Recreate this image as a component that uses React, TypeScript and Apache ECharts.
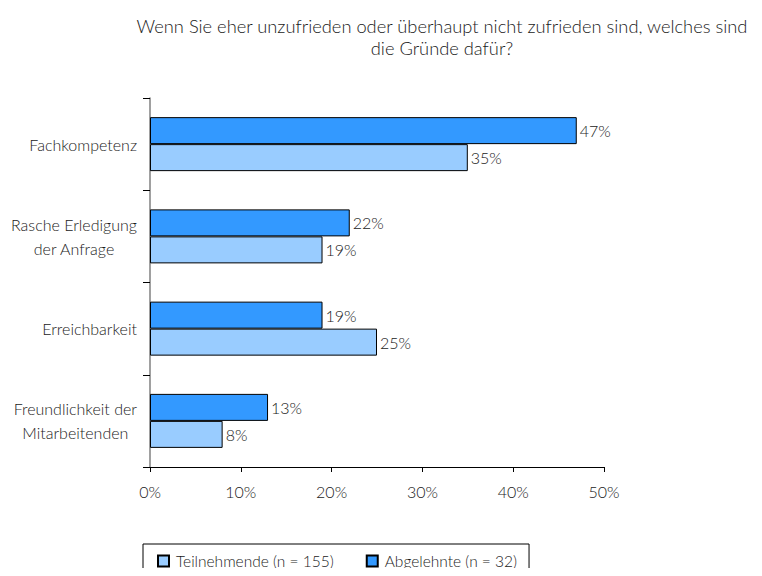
import React, { useEffect, useRef } from "react";
import * as echarts from "echarts";

const categories = [
  "Fachkompetenz",
  "Rasche Erledigung\nder Anfrage",
  "Erreichbarkeit",
  "Freundlichkeit der\nMitarbeitenden",
];
const teilnehmende = [35, 19, 25, 8];
const abgelehnte = [47, 22, 19, 13];
const seriesNames = ["Teilnehmende (n = 155)", "Abgelehnte (n = 32)"];
const xTicks = [0, 10, 20, 30, 40, 50];

const FONT = "Lato, 'Open Sans', sans-serif";
const FS = 16;
const FW = 300;
const TXT = "#1a1a1a";

export default function App() {
  const ref = useRef<HTMLDivElement>(null);
  useEffect(() => {
    if (!ref.current) return;
    const chart = echarts.init(ref.current, undefined, { renderer: "svg" });
    const label = {
      show: true,
      position: "right" as const,
      distance: 3,
      formatter: "{c}%",
      color: TXT,
      fontSize: FS,
      fontWeight: FW,
      fontFamily: FONT,
    };
    chart.setOption({
      animation: false,
      backgroundColor: "#fff",
      textStyle: { fontFamily: FONT, fontWeight: FW },
      title: {
        text: "Wenn Sie eher unzufrieden oder überhaupt nicht zufrieden sind, welches sind\ndie Gründe dafür?",
        left: 437,
        textAlign: "center",
        top: 10,
        textStyle: {
          fontSize: 18.3,
          fontWeight: FW,
          color: TXT,
          lineHeight: 22,
          fontFamily: FONT,
        },
      },
      legend: {
        data: seriesNames,
        left: 143,
        top: 544,
        orient: "horizontal",
        icon: "rect",
        borderColor: "#000",
        borderWidth: 1,
        padding: [9, 12, 6, 14],
        itemWidth: 11,
        itemHeight: 11,
        itemGap: 32,
        textStyle: { fontSize: 15.5, fontWeight: FW, color: TXT, fontFamily: FONT, padding: [0, 0, 0, 2] },
      },
      grid: { left: 150, right: 158, top: 98, bottom: 109, containLabel: false },
      xAxis: {
        type: "value",
        min: 0,
        max: 50,
        interval: 10,
        axisLine: { show: true, lineStyle: { color: "#000", width: 1 } },
        axisTick: { show: true, length: 5, inside: false, lineStyle: { color: "#000" } },
        splitLine: { show: false },
        axisLabel: {
          formatter: (v: number) => (xTicks.includes(v) ? v + "%" : ""),
          color: TXT,
          fontSize: FS,
          fontWeight: FW,
          margin: 16,
          fontFamily: FONT,
        },
      },
      yAxis: {
        type: "category",
        data: categories,
        inverse: true,
        axisLine: { show: true, lineStyle: { color: "#808080", width: 1.5 } },
        axisTick: { show: true, length: 7, alignWithLabel: false, lineStyle: { color: "#000" } },
        axisLabel: {
          color: TXT,
          fontSize: FS,
          fontWeight: FW,
          lineHeight: 24,
          margin: 13,
          align: "right",
          fontFamily: FONT,
          formatter: (v: string) =>
            v
              .split("\n")
              .map((l) => "{c|" + l + "}")
              .join("\n"),
          rich: {
            c: {
              align: "center",
              fontSize: FS,
              fontWeight: FW,
              lineHeight: 24,
              color: TXT,
              fontFamily: FONT,
            },
          },
        },
      },
      series: [
        {
          name: seriesNames[1],
          type: "bar",
          data: abgelehnte,
          barWidth: 27,
          barGap: "0%",
          barCategoryGap: "41%",
          itemStyle: { color: "#3399FF", borderColor: "#000", borderWidth: 1 },
          label,
        },
        {
          name: seriesNames[0],
          type: "bar",
          data: teilnehmende,
          barWidth: 27,
          barGap: "0%",
          itemStyle: { color: "#99CCFF", borderColor: "#000", borderWidth: 1 },
          label,
        },
      ],
    });
    return () => chart.dispose();
  }, []);
  return <div ref={ref} style={{ width: 762, height: 576, margin: -8 }} />;
}
